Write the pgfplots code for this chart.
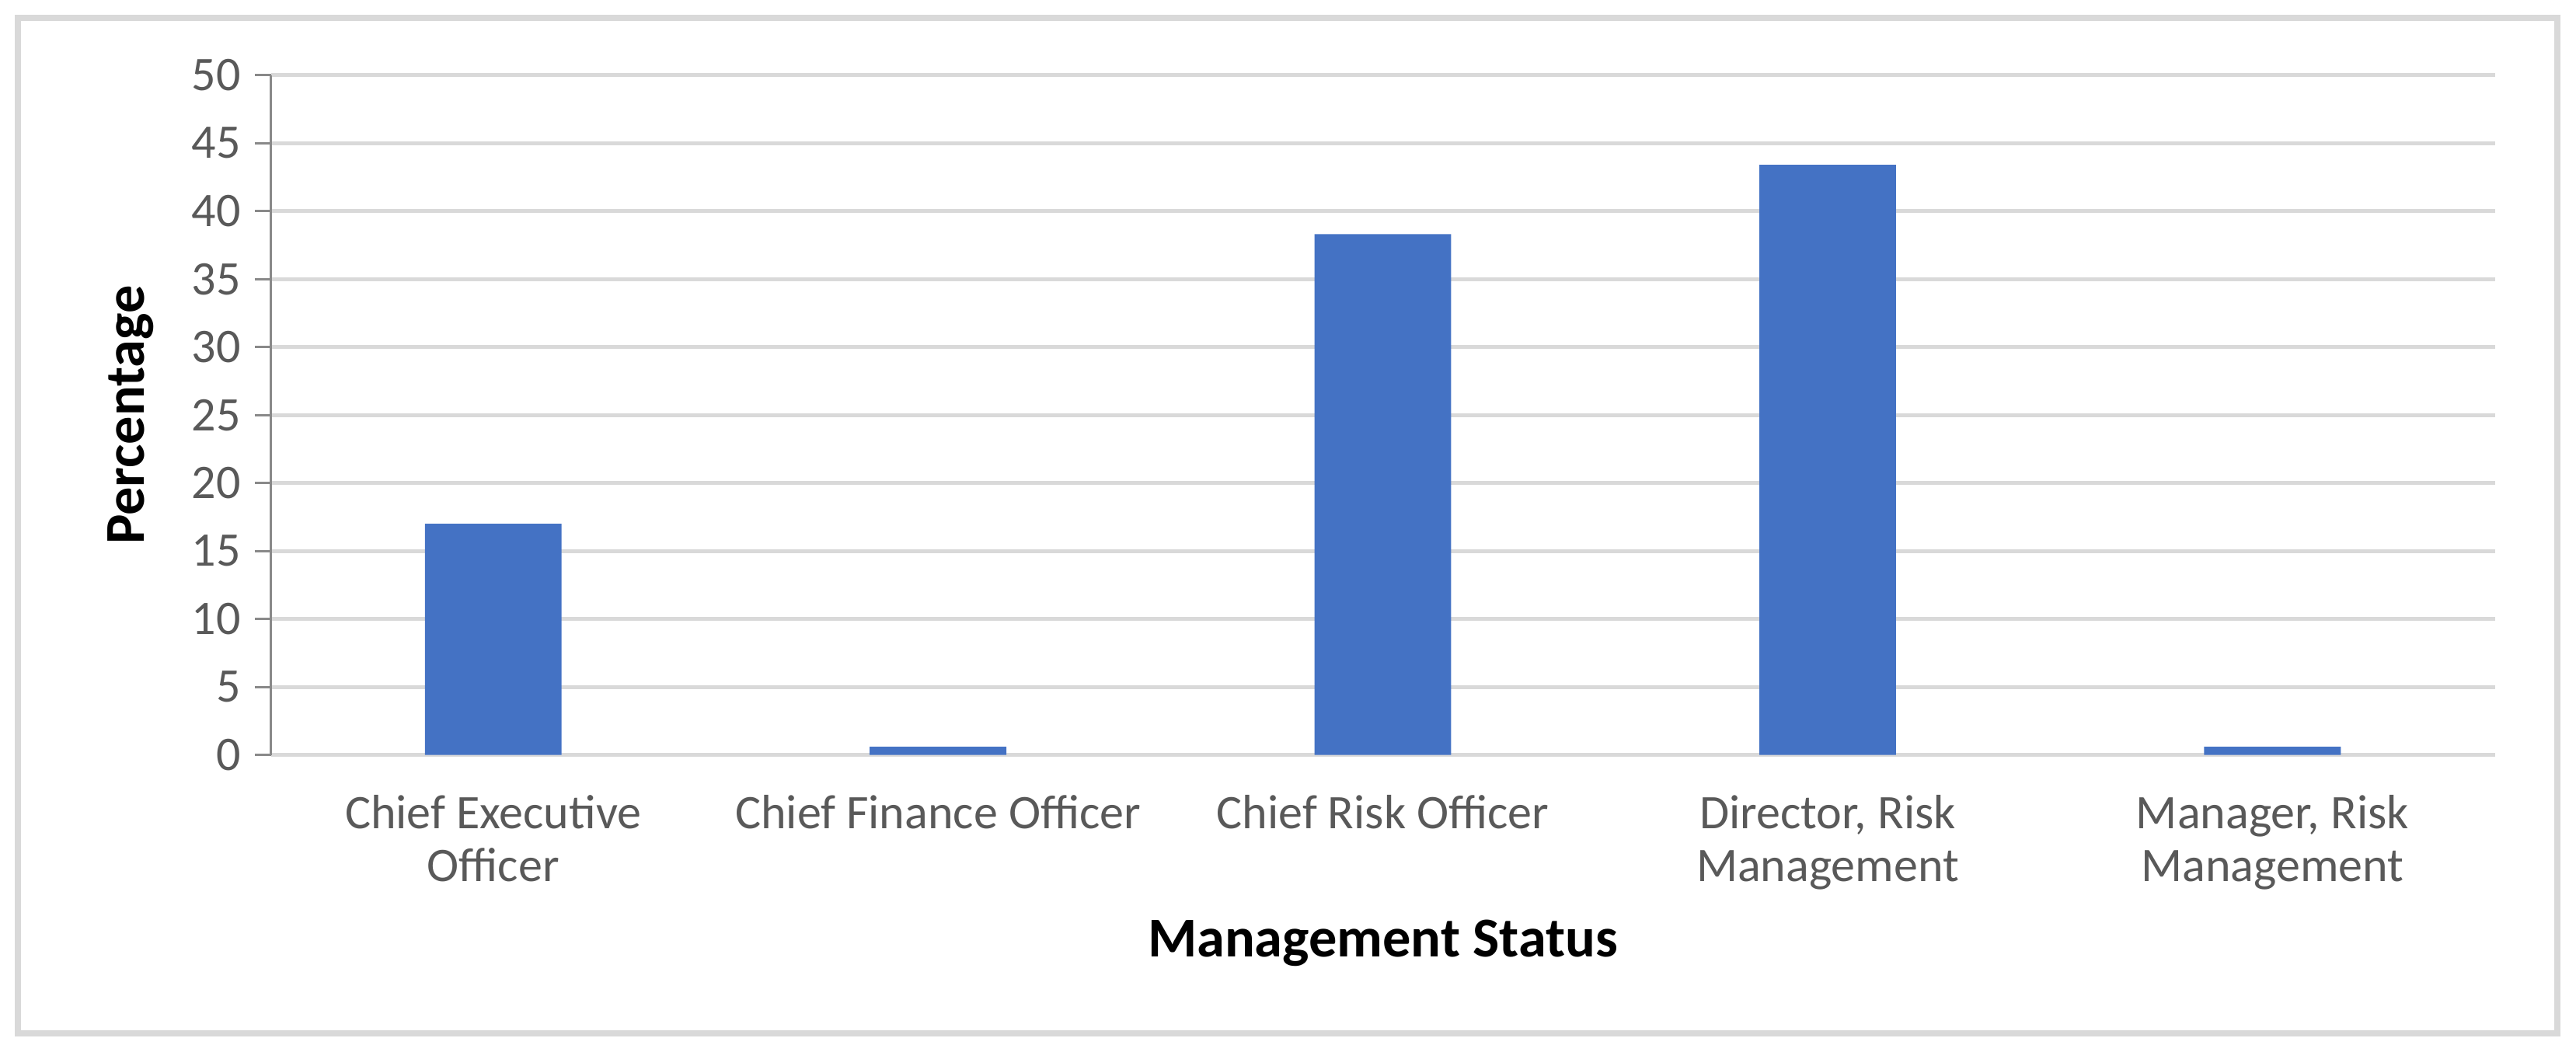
\documentclass[border=0pt]{standalone}
\usepackage{pgfplots}
\pgfplotsset{compat=1.18}
\usepackage{fontspec}
\setmainfont{Carlito}
\definecolor{barblue}{HTML}{4472C4}
\definecolor{gridgray}{HTML}{D9D9D9}
\definecolor{axisgray}{HTML}{898989}
\definecolor{labgray}{HTML}{595959}
\begin{document}
\begin{tikzpicture}
\path[use as bounding box] (0pt,0pt) rectangle (641.1pt,261.8pt);
\draw[color=gridgray, line width=1.5pt] (4.45pt,4.6pt) rectangle (636.5pt,257.35pt);
\begin{axis}[
  at={(67.4pt,73.9pt)}, anchor=south west,
  scale only axis, width=553.5pt, height=169.2pt,
  xmin=-0.5, xmax=4.5, ymin=0, ymax=50,
  ytick={0,5,...,50},
  xtick={0,1,2,3,4},
  xticklabels={Chief Executive\\Officer, Chief Finance Officer, Chief Risk Officer, {Director, Risk\\Management}, {Manager, Risk\\Management}},
  axis x line*=bottom, axis y line*=left,
  x axis line style={color=gridgray, line width=1pt},
  y axis line style={color=axisgray, line width=0.6pt},
  ymajorgrids, grid style={color=gridgray, line width=1pt},
  tick align=outside, major tick length=4pt,
  ytick style={color=axisgray, line width=0.6pt},
  xtick style={draw=none},
  /pgf/number format/assume math mode=true,
  yticklabel style={font=\fontsize{12}{14}\selectfont, color=labgray, anchor=east},
  xticklabel style={font=\fontsize{12}{13.2}\selectfont, color=labgray, align=center, anchor=north, yshift=-2.5pt},
  xlabel={Management Status}, ylabel={Percentage},
  xlabel style={font=\fontsize{14}{16}\bfseries, at={(axis description cs:0.5,-0.277)}, anchor=center},
  ylabel style={font=\fontsize{14}{16}\bfseries, at={(axis description cs:-0.063,0.5)}, anchor=center},
  clip=false,
]
\addplot[ybar, bar width=34pt, fill=barblue, draw=none] coordinates {
  (0,17.0) (1,0.6) (2,38.3) (3,43.4) (4,0.6)
};
\end{axis}
\end{tikzpicture}
\end{document}
